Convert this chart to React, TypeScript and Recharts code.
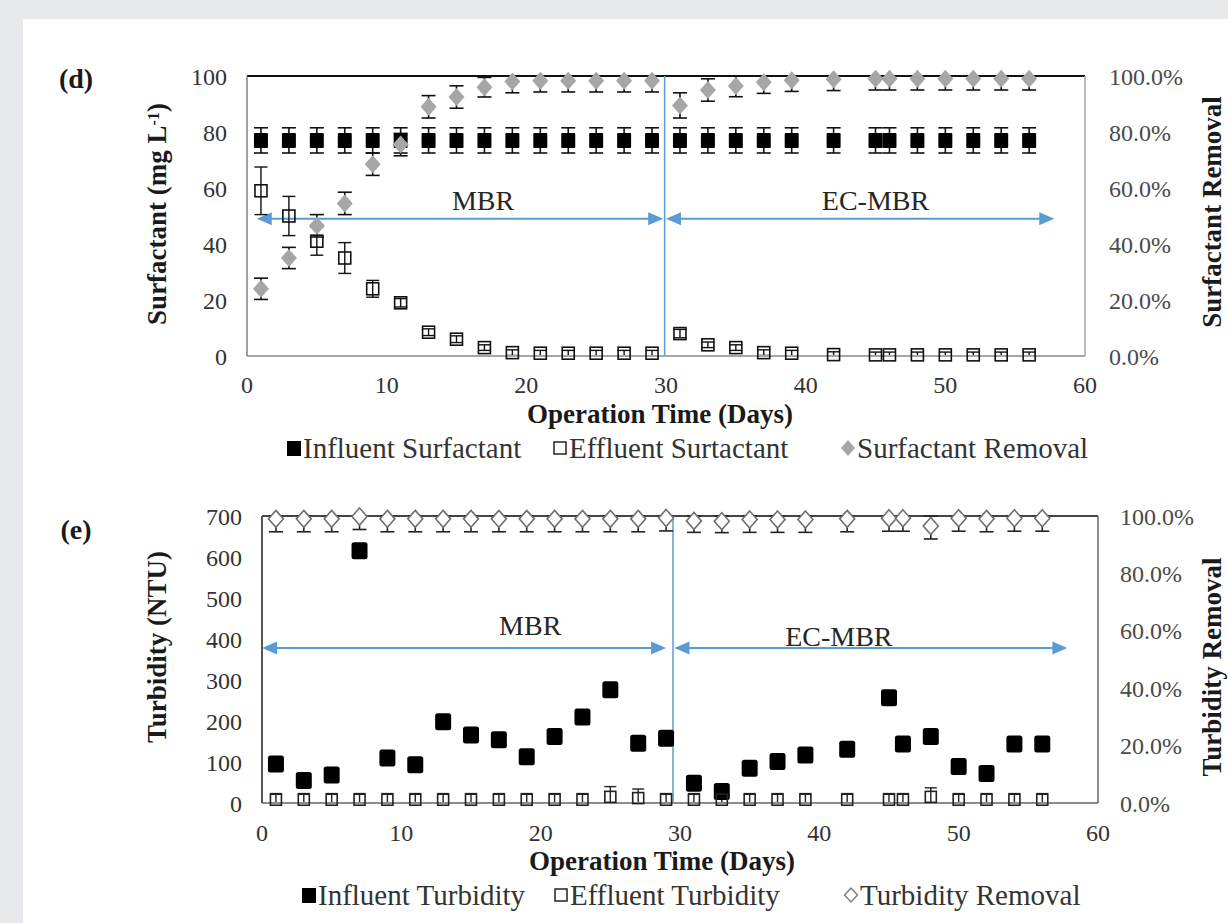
import React from 'react';
import { ScatterChart, Scatter, XAxis, YAxis, ErrorBar, ReferenceLine, ReferenceDot } from 'recharts';

const FONT = '"Liberation Serif", "Times New Roman", Times, serif';
const BLUE = '#5b9bd5';

// ---------- data ----------
const surfDays = [1, 3, 5, 7, 9, 11, 13, 15, 17, 19, 21, 23, 25, 27, 29, 31, 33, 35, 37, 39, 42, 45, 46, 48, 50, 52, 54, 56];
const surfInfluent = [77, 77, 77, 77, 77, 77, 77, 77, 77, 77, 77, 77, 77, 77, 77, 77, 77, 77, 77, 77, 77, 77, 77, 77, 77, 77, 77, 77];
const surfInfluentErr = [4.5, 4.5, 4.5, 4.5, 4.5, 4.5, 4.5, 4.5, 4.5, 4.5, 4.5, 4.5, 4.5, 4.5, 4.5, 4.5, 4.5, 4.5, 4.5, 4.5, 4.5, 4.5, 4.5, 4.5, 4.5, 4.5, 4.5, 4.5];
const surfEffluent = [59, 50, 41, 35, 24, 19, 8.5, 6, 3, 1.2, 1, 1, 1, 1, 1, 8, 4, 3, 1.2, 1, 0.5, 0.4, 0.4, 0.4, 0.4, 0.4, 0.4, 0.4];
const surfEffluentErr = [8.5, 7, 5, 5.5, 3, 1.5, 1.2, 1.2, 1, 1, 1, 1, 1, 1, 1, 1.5, 1, 1, 1, 1, 1, 1, 1, 1, 1, 1, 1, 1];
const surfRemoval = [24, 35, 46.5, 54.5, 68.5, 75.5, 89, 92.5, 96, 98, 98.3, 98.3, 98.3, 98.3, 98.3, 89.5, 95, 96.4, 97.8, 98.5, 98.8, 99, 99, 99, 99, 99, 99, 99];
const surfRemovalErr = [3.8, 3.8, 4, 4, 4, 4, 4, 4, 3.5, 4, 4, 4, 4, 4, 4, 4.5, 4, 3.8, 4, 4, 4, 4, 4, 4, 4, 4, 4, 4];

const turbDays = [1, 3, 5, 7, 9, 11, 13, 15, 17, 19, 21, 23, 25, 27, 29, 31, 33, 35, 37, 39, 42, 45, 46, 48, 50, 52, 54, 56];
const turbInfluent = [95, 55, 68, 615, 110, 93, 198, 166, 154, 113, 162, 210, 276, 146, 158, 48, 28, 85, 101, 117, 131, 257, 144, 162, 89, 72, 144, 144];
const turbEffluent = [8, 8, 8, 8, 8, 8, 8, 8, 8, 8, 8, 8, 15, 12, 8, 8, 8, 8, 8, 8, 8, 8, 8, 15, 8, 8, 8, 8];
const turbEffluentErr = [15, 15, 15, 15, 15, 15, 15, 15, 15, 15, 15, 15, 25, 22, 15, 15, 15, 15, 15, 15, 15, 15, 15, 22, 15, 15, 15, 15];
const turbRemoval = [99, 99, 99, 99.8, 99, 99, 99, 99, 99, 99, 99, 99, 99, 99, 99.3, 98.3, 98.2, 98.8, 98.8, 98.8, 99, 99.2, 99.2, 96.5, 99.2, 99, 99.2, 99.2];
const turbRemovalErr = [4.5, 4.5, 4.5, 4.5, 4.5, 4.5, 4.5, 4.5, 4.5, 4.5, 4.5, 4.5, 4.5, 4.5, 4.5, 4, 4, 4.5, 4.5, 4.5, 4.5, 4.5, 4.5, 4.5, 4.5, 4.5, 4.5, 4.5];

const xTicks = [0, 10, 20, 30, 40, 50, 60];
const surfTicks = [0, 20, 40, 60, 80, 100];
const turbTicks = [0, 100, 200, 300, 400, 500, 600, 700];
const pctTicks = [0, 20, 40, 60, 80, 100];

// ---------- helpers ----------
type Pt = { x: number; y: number; err: [number, number] };
function pts(xs: number[], ys: number[], errs: number[] | null, max: number): Pt[] {
  return xs.map((x, i) => {
    const e = errs ? errs[i] : 0;
    const y = ys[i];
    return { x, y, err: [Math.max(0, Math.min(e, y)), Math.max(0, Math.min(e, max - y))] };
  });
}

const filledSquare = (w: number, h: number, color: string, rx = 0) => (p: any) => (
  <rect x={p.cx - w / 2} y={p.cy - h / 2} width={w} height={h} rx={rx} fill={color} />
);
const hollowSquare = (size: number, color: string) => (p: any) => (
  <rect x={p.cx - size / 2} y={p.cy - size / 2} width={size} height={size} fill="none" stroke={color} strokeWidth={1.6} />
);
const diamond = (w: number, h: number, fill: string, stroke: string, sw = 0) => (p: any) => (
  <polygon
    points={`${p.cx},${p.cy - h / 2} ${p.cx + w / 2},${p.cy} ${p.cx},${p.cy + h / 2} ${p.cx - w / 2},${p.cy}`}
    fill={fill}
    stroke={stroke}
    strokeWidth={sw}
  />
);

const ArrowShape = (p: any) => {
  const { x1, y1, x2, y2 } = p;
  const L = 15;
  const H = 6.5;
  return (
    <g>
      <line x1={x1 + L * 0.6} y1={y1} x2={x2 - L * 0.6} y2={y2} stroke={BLUE} strokeWidth={2} />
      <polygon points={`${x1},${y1} ${x1 + L},${y1 - H} ${x1 + L},${y1 + H}`} fill={BLUE} />
      <polygon points={`${x2},${y2} ${x2 - L},${y2 - H} ${x2 - L},${y2 + H}`} fill={BLUE} />
    </g>
  );
};

const textShape = (label: string) => (p: any) => (
  <text x={p.cx} y={p.cy} textAnchor="middle" dominantBaseline="central" fontFamily={FONT} fontSize={28} fill="#262626">
    {label}
  </text>
);

const tickStyle = { fontSize: 24, fill: '#333', fontFamily: FONT };
const rTickStyle = { fontSize: 24, fill: '#4a4a4a', fontFamily: FONT };
const pctFmt = (v: number) => v.toFixed(1) + '%';

// ---------- legend / titles ----------
type LegItem = { x: number; label: string; kind: 'fill' | 'hollow' | 'gdiam' | 'hdiam' };
function Marker({ kind }: { kind: LegItem['kind'] }) {
  if (kind === 'fill') return <rect x={2} y={9} width={14} height={15} fill="#000" />;
  if (kind === 'hollow') return <rect x={3} y={10} width={12} height={12} fill="none" stroke="#222" strokeWidth={1.5} />;
  if (kind === 'gdiam') return <polygon points="9,8 16,16 9,24 2,16" fill="#a6a6a6" />;
  return <polygon points="9,9 15.5,16 9,23 2.5,16" fill="#fff" stroke="#7f7f7f" strokeWidth={1.5} />;
}
function LegendRow({ top, items }: { top: number; items: LegItem[] }) {
  return (
    <div style={{ position: 'absolute', top, left: 0, width: 1228, height: 32 }}>
      {items.map((it) => (
        <div key={it.label} style={{ position: 'absolute', left: it.x, top: 0, height: 32, display: 'flex', alignItems: 'center', whiteSpace: 'nowrap' }}>
          <svg width={18} height={32} style={{ display: 'block' }}>
            <Marker kind={it.kind} />
          </svg>
          <span style={{ fontFamily: FONT, fontSize: 29, color: '#333', lineHeight: '32px' }}>{it.label}</span>
        </div>
      ))}
    </div>
  );
}

const legendD: LegItem[] = [
  { x: 285, label: 'Influent Surfactant', kind: 'fill' },
  { x: 551, label: 'Effluent Surtactant', kind: 'hollow' },
  { x: 839, label: 'Surfactant Removal', kind: 'gdiam' },
];
const legendE: LegItem[] = [
  { x: 300, label: 'Influent Turbidity', kind: 'fill' },
  { x: 552, label: 'Effluent Turbidity', kind: 'hollow' },
  { x: 842, label: 'Turbidity Removal', kind: 'hdiam' },
];

function Title({ cx, cy, rotate, children, size = 27 }: { cx: number; cy: number; rotate?: boolean; children: React.ReactNode; size?: number }) {
  return (
    <div
      style={{
        position: 'absolute',
        left: cx,
        top: cy,
        transform: `translate(-50%, -50%)${rotate ? ' rotate(-90deg)' : ''}`,
        whiteSpace: 'nowrap',
        fontFamily: FONT,
        fontWeight: 'bold',
        fontSize: size,
        lineHeight: '22px',
        color: '#1a1a1a',
      }}
    >
      {children}
    </div>
  );
}

// ---------- charts ----------
function SurfactantChart() {
  const inf = pts(surfDays, surfInfluent, surfInfluentErr, 100);
  const eff = pts(surfDays, surfEffluent, surfEffluentErr, 100);
  const rem = pts(surfDays, surfRemoval, surfRemovalErr, 100);
  return (
    <ScatterChart width={1228} height={400} margin={{ top: 76, right: 33, bottom: 4, left: 187 }}>
      <XAxis
        type="number"
        dataKey="x"
        domain={[0, 60]}
        ticks={xTicks}
        height={40}
        tickLine={false}
        tickSize={0}
        tickMargin={20}
        axisLine={{ stroke: '#a6a6a6', strokeWidth: 2 }}
        tick={tickStyle}
      />
      <YAxis
        yAxisId="left"
        type="number"
        dataKey="y"
        domain={[0, 100]}
        ticks={surfTicks}
        width={60}
        tickLine={false}
        tickSize={0}
        tickMargin={20}
        axisLine={{ stroke: '#7f7f7f', strokeWidth: 1.5 }}
        tick={tickStyle}
      />
      <YAxis
        yAxisId="right"
        orientation="right"
        type="number"
        dataKey="y"
        domain={[0, 100]}
        ticks={pctTicks}
        tickFormatter={pctFmt}
        width={110}
        tickLine={false}
        tickSize={0}
        tickMargin={24}
        axisLine={{ stroke: '#a6a6a6', strokeWidth: 1.5 }}
        tick={rTickStyle}
      />
      <ReferenceLine yAxisId="left" y={100} stroke="#111" strokeWidth={2.2} />
      <ReferenceLine yAxisId="left" x={29.9} stroke={BLUE} strokeWidth={1.5} />
      <ReferenceLine
        yAxisId="left"
        ifOverflow="visible"
        segment={[{ x: 0.7, y: 49 }, { x: 29.8, y: 49 }]}
        shape={ArrowShape}
      />
      <ReferenceLine
        yAxisId="left"
        ifOverflow="visible"
        segment={[{ x: 30.0, y: 49 }, { x: 57.8, y: 49 }]}
        shape={ArrowShape}
      />
      <ReferenceDot yAxisId="left" x={16.9} y={55.7} r={0} shape={textShape('MBR')} />
      <ReferenceDot yAxisId="left" x={45.0} y={55.7} r={0} shape={textShape('EC-MBR')} />

      <Scatter yAxisId="left" name="Influent Surfactant" data={inf} shape={filledSquare(14, 15, '#000', 1)} isAnimationActive={false}>
        <ErrorBar dataKey="err" direction="y" width={7} stroke="#111" strokeWidth={1.6} />
      </Scatter>
      <Scatter yAxisId="left" name="Effluent Surtactant" data={eff} shape={hollowSquare(12, '#111')} isAnimationActive={false}>
        <ErrorBar dataKey="err" direction="y" width={6.5} stroke="#111" strokeWidth={1.4} />
      </Scatter>
      <Scatter yAxisId="right" name="Surfactant Removal" data={rem} shape={diamond(16, 18, '#a6a6a6', 'none')} isAnimationActive={false}>
        <ErrorBar dataKey="err" direction="y" width={7} stroke="#111" strokeWidth={1.6} />
      </Scatter>
    </ScatterChart>
  );
}

function TurbidityChart() {
  const inf = pts(turbDays, turbInfluent, null, 700);
  const eff = pts(turbDays, turbEffluent, turbEffluentErr, 700);
  const rem = pts(turbDays, turbRemoval, turbRemovalErr, 100);
  return (
    <ScatterChart width={1228} height={410} margin={{ top: 76, right: 20, bottom: 7, left: 202 }}>
      <XAxis
        type="number"
        dataKey="x"
        domain={[0, 60]}
        ticks={xTicks}
        height={40}
        tickLine={false}
        tickSize={0}
        tickMargin={21}
        axisLine={{ stroke: '#8c8c8c', strokeWidth: 2.2 }}
        tick={tickStyle}
      />
      <YAxis
        yAxisId="left"
        type="number"
        dataKey="y"
        domain={[0, 700]}
        ticks={turbTicks}
        width={60}
        tickLine={false}
        tickSize={0}
        tickMargin={20}
        axisLine={{ stroke: '#555', strokeWidth: 2 }}
        tick={tickStyle}
      />
      <YAxis
        yAxisId="right"
        orientation="right"
        type="number"
        dataKey="y"
        domain={[0, 100]}
        ticks={pctTicks}
        tickFormatter={pctFmt}
        width={110}
        tickLine={false}
        tickSize={0}
        tickMargin={22}
        axisLine={{ stroke: '#666', strokeWidth: 1.5 }}
        tick={rTickStyle}
      />
      <ReferenceLine yAxisId="left" y={700} stroke="#444" strokeWidth={2} />
      <ReferenceLine yAxisId="left" x={29.5} stroke={BLUE} strokeWidth={1.5} />
      <ReferenceLine
        yAxisId="left"
        ifOverflow="visible"
        segment={[{ x: 0, y: 378 }, { x: 29.0, y: 378 }]}
        shape={ArrowShape}
      />
      <ReferenceLine
        yAxisId="left"
        ifOverflow="visible"
        segment={[{ x: 29.6, y: 378 }, { x: 57.8, y: 378 }]}
        shape={ArrowShape}
      />
      <ReferenceDot yAxisId="left" x={19.25} y={432} r={0} shape={textShape('MBR')} />
      <ReferenceDot yAxisId="left" x={41.4} y={405} r={0} shape={textShape('EC-MBR')} />

      <Scatter yAxisId="left" name="Influent Turbidity" data={inf} shape={filledSquare(16, 17, '#000', 2.5)} isAnimationActive={false} />
      <Scatter yAxisId="left" name="Effluent Turbidity" data={eff} shape={hollowSquare(11, '#222')} isAnimationActive={false}>
        <ErrorBar dataKey="err" direction="y" width={6} stroke="#222" strokeWidth={1.4} />
      </Scatter>
      <Scatter yAxisId="right" name="Turbidity Removal" data={rem} shape={diamond(15, 17, '#fff', '#6f6f6f', 1.6)} isAnimationActive={false}>
        <ErrorBar dataKey="err" direction="y" width={7} stroke="#222" strokeWidth={1.6} />
      </Scatter>
    </ScatterChart>
  );
}

export default function App() {
  return (
    <div style={{ position: 'absolute', left: 0, top: 0, width: 1228, height: 923, background: '#e8e9ec', overflow: 'hidden' }}>
      <div style={{ position: 'absolute', left: 23, top: 19, right: 0, bottom: 0, background: '#fff' }} />
      <div style={{ position: 'absolute', left: 0, top: 0 }}>
        <SurfactantChart />
      </div>
      <div style={{ position: 'absolute', left: 0, top: 440 }}>
        <TurbidityChart />
      </div>

      <Title cx={76} cy={79} size={28}>(d)</Title>
      <Title cx={76} cy={530} size={28}>(e)</Title>

      <Title cx={157} cy={214} rotate>
        Surfactant (mg L<sup style={{ fontSize: 16, verticalAlign: 'top', lineHeight: 1 }}>-1</sup>)
      </Title>
      <Title cx={1212} cy={212} rotate>Surfactant Removal</Title>
      <Title cx={660} cy={414}>Operation Time (Days)</Title>

      <Title cx={157} cy={647} rotate>Turbidity (NTU)</Title>
      <Title cx={1212} cy={667} rotate>Turbidity Removal</Title>
      <Title cx={662} cy={861}>Operation Time (Days)</Title>

      <LegendRow top={432} items={legendD} />
      <LegendRow top={879} items={legendE} />
    </div>
  );
}
